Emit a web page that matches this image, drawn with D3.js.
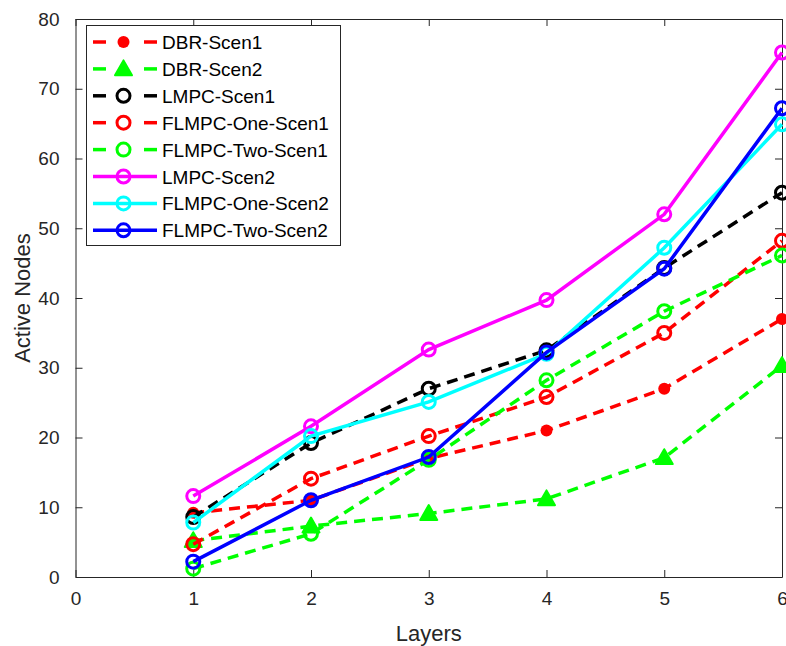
<!DOCTYPE html>
<html>
<head>
<meta charset="utf-8">
<script src="https://cdn.jsdelivr.net/npm/d3@7"></script>
<style>
  body { margin: 0; background: #fff; }
  svg { display: block; font-family: "Liberation Sans", Arial, sans-serif; }
</style>
</head>
<body>
<svg id="chart" width="786" height="646"></svg>
<script>
// data
const layers = [1, 2, 3, 4, 5, 6];
const xTicks = [0, 1, 2, 3, 4, 5, 6];
const yTicks = [0, 10, 20, 30, 40, 50, 60, 70, 80];

const dbrScen1 = [9.2, 11, 17, 21, 27, 37];
const dbrScen2 = [5.2, 7.3, 9.1, 11.2, 17.1, 30.3];
const lmpcScen1 = [8.6, 19.2, 27, 32.5, 44.3, 55.1];
const flmpcOneScen1 = [4.7, 14.1, 20.2, 25.8, 35, 48.2];
const flmpcTwoScen1 = [1.2, 6.2, 16.8, 28.2, 38.1, 46.1];
const lmpcScen2 = [11.6, 21.6, 32.6, 39.7, 52, 75.2];
const flmpcOneScen2 = [7.8, 20.2, 25.1, 32, 47.2, 64.9];
const flmpcTwoScen2 = [2.2, 11, 17.2, 32.2, 44.2, 67.2];

const seriesNames = ["DBR-Scen1", "DBR-Scen2", "LMPC-Scen1", "FLMPC-One-Scen1",
  "FLMPC-Two-Scen1", "LMPC-Scen2", "FLMPC-One-Scen2", "FLMPC-Two-Scen2"];
const seriesValues = [dbrScen1, dbrScen2, lmpcScen1, flmpcOneScen1,
  flmpcTwoScen1, lmpcScen2, flmpcOneScen2, flmpcTwoScen2];
const seriesColors = ["#ff0000", "#00ff00", "#000000", "#ff0000",
  "#00ff00", "#ff00ff", "#00ffff", "#0000ff"];
const seriesDashed = [true, true, true, true, true, false, false, false];
const seriesMarker = ["dot", "triangle", "circle", "circle", "circle", "circle", "circle", "circle"];

const margin = { left: 75.5, right: 4, top: 19, bottom: 69 };
const width = 786, height = 646;

const svg = d3.select("#chart");

const x = d3.scaleLinear().domain([0, 6]).range([margin.left, width - margin.right]);
const y = d3.scaleLinear().domain([0, 80]).range([height - margin.bottom, margin.top]);

const axisColor = "#262626";
const fmt = d3.format("d");

// frame + ticks (inward, all four sides)
const styleAxis = (g) => {
  g.select(".domain").attr("stroke", axisColor);
  g.selectAll(".tick line").attr("stroke", axisColor);
  g.selectAll(".tick text").attr("fill", axisColor).attr("font-size", 19);
};

svg.append("g")
  .attr("transform", `translate(0,${y(0)})`)
  .call(d3.axisBottom(x).tickValues(xTicks).tickFormat(fmt).tickSizeInner(-7).tickSizeOuter(0).tickPadding(15))
  .call(styleAxis);

svg.append("g")
  .attr("transform", `translate(0,${y(80)})`)
  .call(d3.axisTop(x).tickValues(xTicks).tickSizeInner(-7).tickSizeOuter(0).tickFormat(""))
  .call(styleAxis);

svg.append("g")
  .attr("transform", `translate(${x(0)},0)`)
  .call(d3.axisLeft(y).tickValues(yTicks).tickFormat(fmt).tickSizeInner(-7).tickSizeOuter(0).tickPadding(16))
  .call(styleAxis);

svg.append("g")
  .attr("transform", `translate(${x(6)},0)`)
  .call(d3.axisRight(y).tickValues(yTicks).tickSizeInner(-7).tickSizeOuter(0).tickFormat(""))
  .call(styleAxis);

// axis labels
svg.append("text")
  .attr("x", (x(0) + x(6)) / 2)
  .attr("y", 641)
  .attr("text-anchor", "middle")
  .attr("font-size", 22)
  .attr("fill", axisColor)
  .text("Layers");

svg.append("text")
  .attr("transform", `translate(30,${(y(0) + y(80)) / 2}) rotate(-90)`)
  .attr("text-anchor", "middle")
  .attr("font-size", 22)
  .attr("fill", axisColor)
  .text("Active Nodes");

const line = d3.line().x((d, i) => x(layers[i])).y(d => y(d));

const drawMarker = (g, kind, color, cx, cy) => {
  if (kind === "dot") {
    g.append("circle").attr("cx", cx).attr("cy", cy).attr("r", 6)
      .attr("fill", color);
  } else if (kind === "triangle") {
    const s = 8.5;
    g.append("path")
      .attr("d", `M${cx},${cy - s}L${cx + s},${cy + s * 0.75}L${cx - s},${cy + s * 0.75}Z`)
      .attr("fill", color).attr("stroke", color).attr("stroke-width", 2)
      .attr("stroke-linejoin", "round");
  } else {
    g.append("circle").attr("cx", cx).attr("cy", cy).attr("r", 6.5)
      .attr("fill", "none").attr("stroke", color).attr("stroke-width", 3);
  }
};

const plot = svg.append("g");

seriesValues.forEach((vals, k) => {
  const g = plot.append("g");
  g.append("path")
    .attr("d", line(vals))
    .attr("fill", "none")
    .attr("stroke", seriesColors[k])
    .attr("stroke-width", 3.5)
    .attr("stroke-dasharray", seriesDashed[k] ? "11,7" : null);
  vals.forEach((v, i) => drawMarker(g, seriesMarker[k], seriesColors[k], x(layers[i]), y(v)));
});

// legend
const legend = svg.append("g");
legend.append("rect")
  .attr("x", 86.5).attr("y", 25.5)
  .attr("width", 254).attr("height", 220)
  .attr("fill", "#fff").attr("stroke", axisColor).attr("stroke-width", 1);

seriesNames.forEach((name, k) => {
  const cy = 42 + k * 26.9;
  const c = seriesColors[k];
  if (seriesDashed[k]) {
    legend.append("line").attr("x1", 93).attr("x2", 106).attr("y1", cy).attr("y2", cy)
      .attr("stroke", c).attr("stroke-width", 3.5);
    legend.append("line").attr("x1", 144).attr("x2", 157).attr("y1", cy).attr("y2", cy)
      .attr("stroke", c).attr("stroke-width", 3.5);
  } else {
    legend.append("line").attr("x1", 93).attr("x2", 157).attr("y1", cy).attr("y2", cy)
      .attr("stroke", c).attr("stroke-width", 3.5);
  }
  drawMarker(legend, seriesMarker[k], c, 123.5, cy);
  legend.append("text")
    .attr("x", 162).attr("y", cy + 7)
    .attr("font-size", 19)
    .attr("fill", "#000")
    .text(name);
});
</script>
</body>
</html>
